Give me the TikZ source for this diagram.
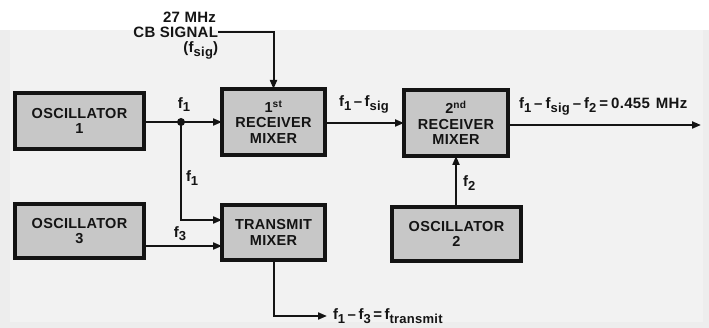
\documentclass[tikz,border=0pt]{standalone}
\usepackage{fontspec}
\setmainfont{Liberation Sans}[LetterSpace=2]
\usetikzlibrary{arrows.meta}
\definecolor{ink}{gray}{0.08}
\definecolor{paper}{gray}{0.95}
\definecolor{margin}{gray}{0.93}
\definecolor{boxfill}{gray}{0.78}
\newcommand{\fsub}[1]{f\raisebox{-0.45ex}{\fontsize{13}{13}\selectfont #1}}

\begin{document}
\begin{tikzpicture}[x=1pt,y=-1pt,
  every node/.style={inner sep=0pt,outer sep=0pt,text=ink},
  blk/.style={draw=ink,line width=4pt,fill=boxfill,align=center,
              font=\bfseries\fontsize{14.5}{15.5}\selectfont},
  lbl/.style={font=\bfseries\fontsize{15}{16}\selectfont},
  sig/.style={draw=ink,line width=2pt,-{Triangle[length=9pt,width=7pt]}}]

% ---- paper ---------------------------------------------------------------
\useasboundingbox (0,0) rectangle (709,328);
\fill[margin] (0,30) rectangle (709,328);
\fill[paper] (10,30) rectangle (703,322);

% ---- blocks --------------------------------------------------------------
\node[blk,minimum width=129,minimum height=56] (osc1) at (79.5,121) {OSCILLATOR\\1};
\node[blk,minimum width=129,minimum height=54] (osc3) at (79.5,231) {OSCILLATOR\\3};
\node[blk,minimum width=103,minimum height=66] (rmix1) at (273.5,122) {1\textsuperscript{st}\\RECEIVER\\MIXER};
\node[blk,minimum width=103,minimum height=55] (tmix) at (273.5,232.5) {TRANSMIT\\MIXER};
\node[blk,minimum width=104,minimum height=66] (rmix2) at (456,123) {2\textsuperscript{nd}\\RECEIVER\\MIXER};
\node[blk,minimum width=129,minimum height=54] (osc2) at (456.5,234) {OSCILLATOR\\2};

% ---- CB input ------------------------------------------------------------
\node[lbl,anchor=east] (cbsig) at (218,32) {CB SIGNAL};
\node[lbl,anchor=south east] (mhz) at (216,23) {27 MHz};
\node[lbl,anchor=north east] (fsig) at (218,42) {(\fsub{sig})};
\draw[sig] (cbsig.east) -| (rmix1.north);

% ---- oscillator 1 and branch ---------------------------------------------
\coordinate (jn) at (181,122);
\fill[ink] (jn) circle (4pt);
\draw[sig] (osc1.east |- jn) -- (rmix1.west |- jn);
\node[lbl,anchor=south] (f1a) at (184,112) {\fsub{1}};
\draw[sig] (jn) |- ([yshift=12.5pt]tmix.west);
\node[lbl,anchor=west] (f1b) at (186,178) {\fsub{1}};

% ---- oscillator 3 --------------------------------------------------------
\draw[sig] (osc3.east |- 0,246) -- (tmix.west |- 0,246);
\node[lbl,anchor=south] (f3) at (180,241) {\fsub{3}};

% ---- mixer 1 to mixer 2 --------------------------------------------------
\draw[sig] (rmix1.east |- 0,123) -- (rmix2.west);
\node[lbl,anchor=south] (fdiff) at (364,113) {\fsub{1}\,–\,\fsub{sig}};

% ---- oscillator 2 --------------------------------------------------------
\draw[sig] (osc2.north -| rmix2.south) -- (rmix2.south);
\node[lbl,anchor=west] (f2) at (463,183) {\fsub{2}};

% ---- IF output -----------------------------------------------------------
\coordinate (ifout) at (701,125);
\draw[sig] (rmix2.east |- ifout) -- (ifout);
\node[lbl,anchor=south west] (iflbl) at (519,115)
  {\fsub{1}\hspace{3pt}–\hspace{3pt}\fsub{sig}\hspace{3pt}–\hspace{3pt}\fsub{2}\hspace{3pt}=\hspace{3pt}0.455\hspace{6pt}MHz};

% ---- transmit output -----------------------------------------------------
\node[lbl,anchor=west] (txlbl) at (333,316) {\fsub{1}\,–\,\fsub{3}\,=\,\fsub{transmit}};
\draw[sig] (tmix.south) |- ([xshift=-6pt]txlbl.west);
\end{tikzpicture}
\end{document}
